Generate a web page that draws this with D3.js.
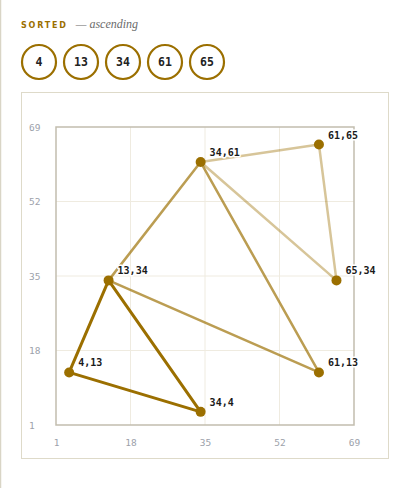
<!DOCTYPE html>
<html><head><meta charset="utf-8">
<script src="https://cdn.jsdelivr.net/npm/d3@7"></script>
<style>
html,body{margin:0;padding:0;background:#fff;}
svg{display:block;}
</style></head>
<body>
<svg id="chart" width="410" height="488"></svg>
<script>
const sortedValues = [4, 13, 34, 61, 65];
const pointLabels = ["4,13", "13,34", "34,4", "34,61", "61,65", "65,34", "61,13"];
const pointX = [4, 13, 34, 34, 61, 65, 61];
const pointY = [13, 34, 4, 61, 65, 34, 13];
// triangles as indices into the points, by level (0 = darkest)
const triangleA = [0, 1, 2];
const triangleB = [1, 3, 6];
const triangleC = [3, 4, 5];
const triangles = [triangleA, triangleB, triangleC];
const tickValues = [1, 18, 35, 52, 69];

const gold = "#9b6f00";
const svg = d3.select("#chart");

// left page rule
svg.append("line").attr("x1",0.5).attr("x2",0.5).attr("y1",0).attr("y2",488)
  .attr("stroke","#d9d5c6").attr("stroke-width",1.5);

// header
const hdr = svg.append("text").attr("x",21).attr("y",28);
hdr.append("tspan").text("SORTED").attr("fill",gold)
  .attr("font-family","DejaVu Sans").attr("font-weight","bold")
  .attr("font-size",8).attr("letter-spacing",1.8);
hdr.append("tspan").text("— ascending").attr("dx",8).attr("fill","#6b6b6b")
  .attr("font-family","Liberation Serif").attr("font-style","italic")
  .attr("font-size",12);

// sorted chips
const xChip = d3.scaleBand().domain(d3.range(sortedValues.length)).range([22, 22 + 42*sortedValues.length]).paddingInner(0);
const chips = svg.append("g").selectAll("g").data(sortedValues).join("g")
  .attr("transform",(d,i)=>`translate(${xChip(i)+17},62)`);
chips.append("circle").attr("r",17).attr("fill","#fff").attr("stroke",gold).attr("stroke-width",2.2);
chips.append("text").text(d=>d).attr("text-anchor","middle").attr("dy","0.36em")
  .attr("font-family","DejaVu Sans Mono").attr("font-weight","bold").attr("font-size",11.5).attr("fill","#222");

// panel
svg.append("rect").attr("x",21.5).attr("y",92.5).attr("width",367).attr("height",366)
  .attr("fill","#fff").attr("stroke","#dedac9").attr("stroke-width",1);

const x = d3.scaleLinear().domain([1,69]).range([56,354]);
const y = d3.scaleLinear().domain([1,69]).range([425,127]);

// grid
const g = svg.append("g");
g.selectAll("line.gx").data(tickValues.slice(1,-1)).join("line")
  .attr("x1",d=>x(d)).attr("x2",d=>x(d)).attr("y1",y(69)).attr("y2",y(1))
  .attr("stroke","#efebe0").attr("stroke-width",1);
g.selectAll("line.gy").data(tickValues.slice(1,-1)).join("line")
  .attr("y1",d=>y(d)).attr("y2",d=>y(d)).attr("x1",x(1)).attr("x2",x(69))
  .attr("stroke","#efebe0").attr("stroke-width",1);

// frame
svg.append("rect").attr("x",x(1)).attr("y",y(69)).attr("width",x(69)-x(1)).attr("height",y(1)-y(69))
  .attr("fill","none").attr("stroke","#c2bdae").attr("stroke-width",1.5);

// axes (tick labels only)
const xAxis = d3.axisBottom(x).tickValues(tickValues).tickSize(0).tickPadding(0);
const xa = svg.append("g").attr("transform",`translate(0,${y(1)+14})`).call(xAxis);
const yAxis = d3.axisLeft(y).tickValues(tickValues).tickSize(0).tickPadding(0);
const ya = svg.append("g").attr("transform",`translate(29,0)`).call(yAxis);
[xa, ya].forEach(a=>{
  a.select(".domain").remove();
  a.selectAll("text").attr("font-family","DejaVu Sans Mono").attr("font-size",9.5).attr("fill","#9ca1aa");
});
ya.selectAll("text").attr("text-anchor","start").attr("dy","0.32em");
xa.selectAll("text").attr("dy","0.71em");

// edges
const levelStyle = [
  {op:1, w:3},
  {op:0.68, w:2.5},
  {op:0.4, w:2.5}
];
const edges = [];
triangles.forEach((t,lvl)=>{
  [[t[0],t[1]],[t[1],t[2]],[t[2],t[0]]].forEach(e=>edges.push({a:e[0],b:e[1],lvl}));
});
svg.append("g").selectAll("line").data(edges.slice().reverse()).join("line")
  .attr("x1",d=>x(pointX[d.a])).attr("y1",d=>y(pointY[d.a]))
  .attr("x2",d=>x(pointX[d.b])).attr("y2",d=>y(pointY[d.b]))
  .attr("stroke",gold).attr("stroke-opacity",d=>levelStyle[d.lvl].op)
  .attr("stroke-width",d=>levelStyle[d.lvl].w).attr("stroke-linecap","round");

// points
const pts = d3.range(pointX.length);
svg.append("g").selectAll("circle").data(pts).join("circle")
  .attr("cx",i=>x(pointX[i])).attr("cy",i=>y(pointY[i])).attr("r",5).attr("fill",gold);

// labels
svg.append("g").selectAll("text").data(pts).join("text")
  .attr("x",i=>x(pointX[i])+9).attr("y",i=>y(pointY[i])-6)
  .text(i=>pointLabels[i])
  .attr("font-family","DejaVu Sans Mono").attr("font-weight","bold").attr("font-size",10)
  .attr("fill","#1a1a1a").attr("stroke","#fff").attr("stroke-width",3)
  .attr("paint-order","stroke").attr("stroke-linejoin","round");
</script>
</body></html>
